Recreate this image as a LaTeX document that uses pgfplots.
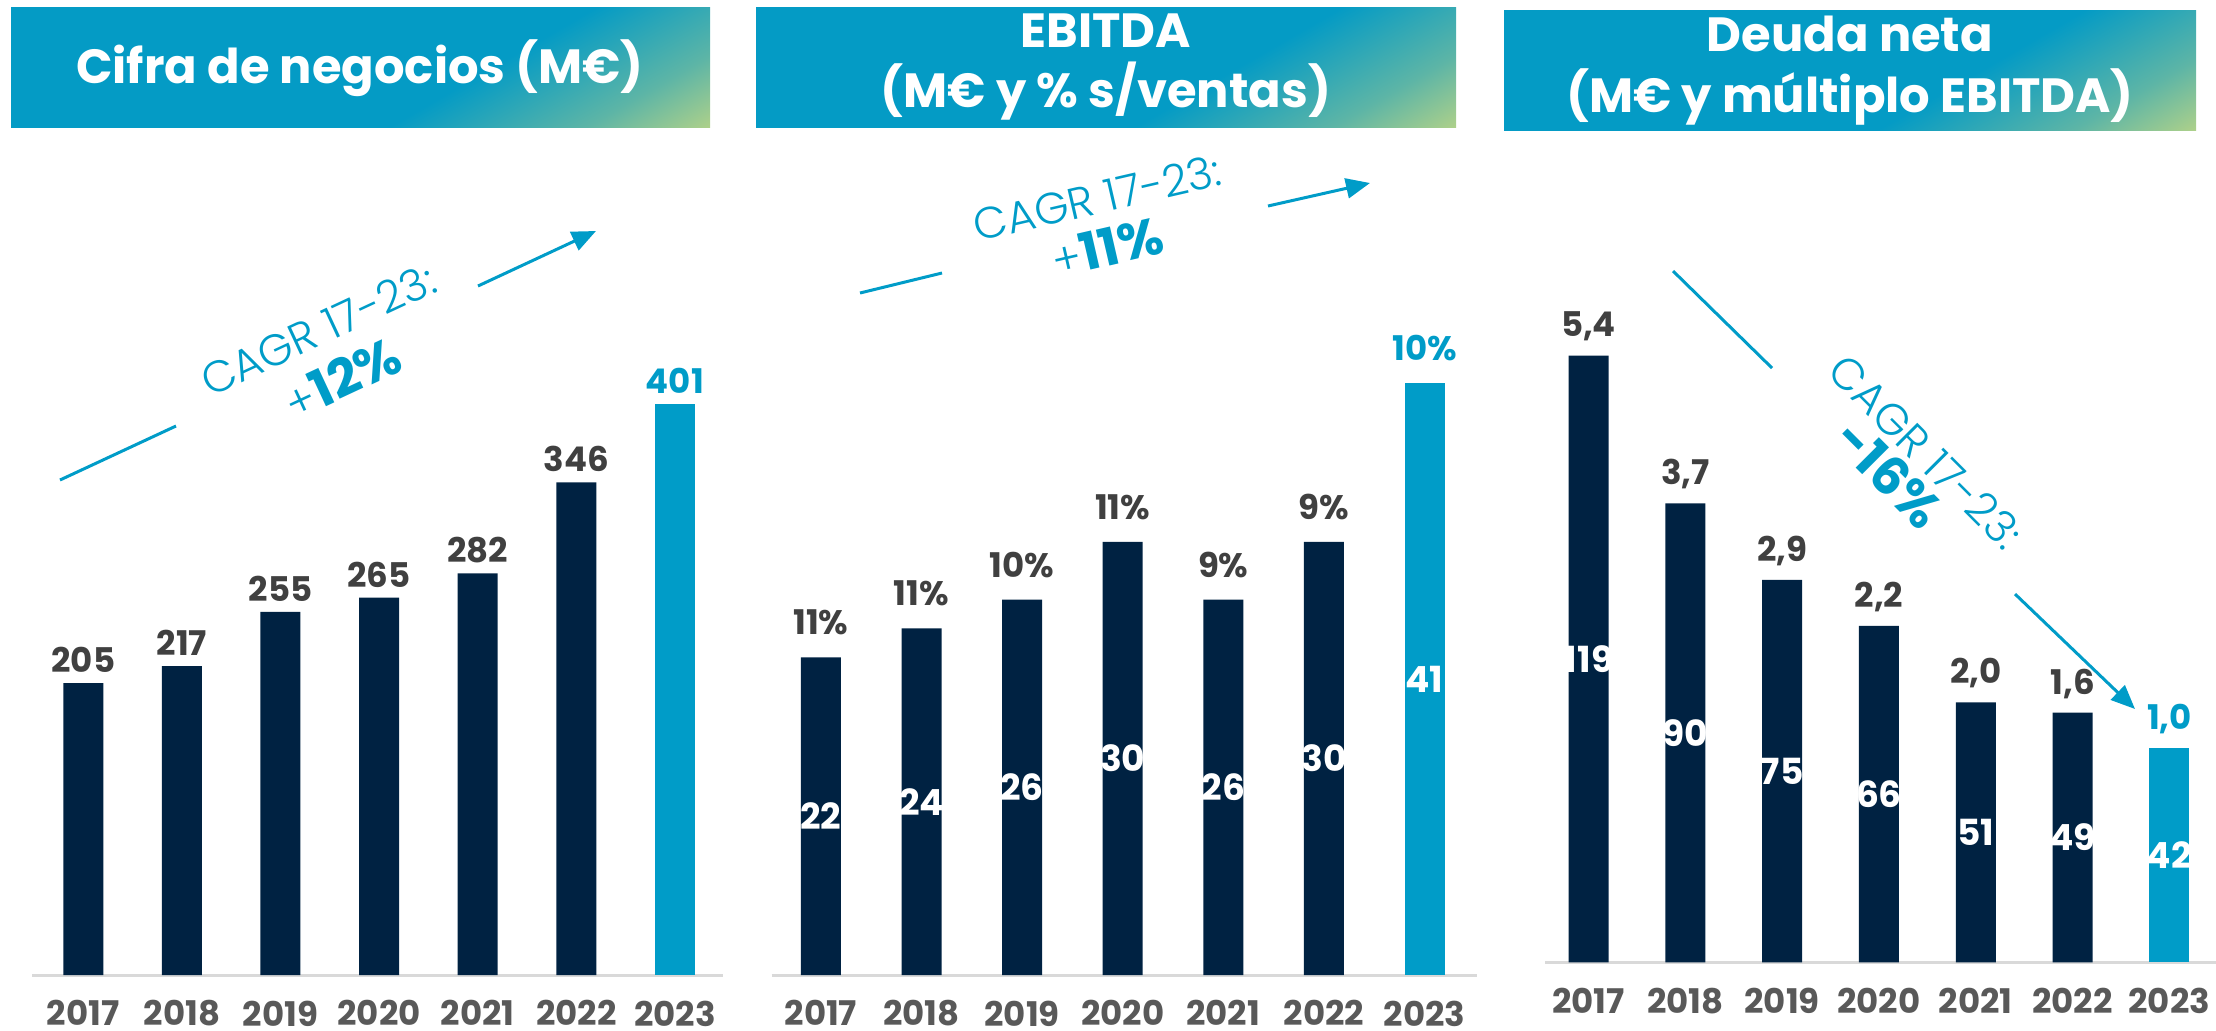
\documentclass[border=0pt]{standalone}
\usepackage{pgfplots}
\pgfplotsset{compat=1.18}
\usepackage{pgfplotstable}
\usepackage{fontspec}
\usetikzlibrary{arrows.meta}
\setmainfont{Poppins}
\IfFontExistsTF{Poppins Light}{\newfontfamily\lightfont{Poppins Light}}{\newfontfamily\lightfont{Poppins}}

\definecolor{navy}{HTML}{002242}
\definecolor{cblue}{HTML}{009CC8}
\definecolor{hblue}{HTML}{049BC5}
\definecolor{hteal}{HTML}{5DB5A6}
\definecolor{hyel}{HTML}{C4D882}
\definecolor{vgray}{HTML}{404040}
\definecolor{ygray}{HTML}{595959}
\definecolor{lgray}{HTML}{D9D9D9}

\pgfdeclarehorizontalshading{hdr}{100bp}{color(0bp)=(hblue); color(60bp)=(hblue); color(75bp)=(hteal); color(87bp)=(hyel); color(100bp)=(hyel)}

\newcommand\lab{\bfseries\fontsize{8.5}{10}\selectfont}
\newcommand\inl{\bfseries\fontsize{9}{10}\selectfont}
\newcommand\ttl{\bfseries\fontsize{12}{15.2}\selectfont}

% data
\pgfplotstableread{
x val
0 205
1 217
2 255
3 265
4 282
5 346
6 401
}\ventas

\pgfplotstableread{
x val pct
0 22 11
1 24 11
2 26 10
3 30 11
4 26 9
5 30 9
6 41 10
}\ebitda

\pgfplotstableread{
x val mult
0 119 5.4
1 90 3.7
2 75 2.9
3 66 2.2
4 51 2.0
5 49 1.6
6 42 1.0
}\deuda

\pgfplotsset{
  panel/.style={
    scale only axis, clip=false, ymin=0,
    /pgf/number format/assume math mode=true,
    axis x line*=bottom, axis y line=none,
    axis line style={-, lgray, line width=0.75pt},
    xtick={0,...,6},
    xticklabels={2017,2018,2019,2020,2021,2022,2023},
    major tick length=0pt, xtick style={draw=none},
    x tick label style={font=\lab, text=ygray, inner sep=0pt, yshift=-6.2pt},
  },
  bars/.style={ybar, bar width=10pt, bar shift=0pt, draw=none},
  toplab/.style={nodes near coords,
    every node near coord/.append style={font=\lab, text=vgray, yshift=#1}},
  inlab/.style={nodes near coords,
    visualization depends on={y \as \rawy},
    every node near coord/.append style={font=\inl, text=white, anchor=center,
      shift={(axis direction cs:0,-\rawy/2)}}},
  first6/.style={skip coords between index={6}{7}},
  last1/.style={skip coords between index={0}{6}},
}

\begin{document}
\begin{tikzpicture}

% Cifra de negocios
\begin{axis}[panel, at={(8pt,-243.75pt)}, anchor=south west,
  width=172.8pt, height=160.2pt, xmin=-0.52, xmax=6.49, ymax=450]
\addplot[bars, fill=navy, toplab=-1pt] table[x=x, y=val, first6] {\ventas};
\addplot[bars, fill=cblue, toplab=-1pt,
  every node near coord/.append style={text=cblue}] table[x=x, y=val, last1] {\ventas};
\end{axis}

% EBITDA
\begin{axis}[panel, at={(192.9pt,-243.75pt)}, anchor=south west,
  width=176.3pt, height=162.45pt, xmin=-0.49, xmax=6.52, ymax=45]
\addplot[bars, fill=navy, inlab] table[x=x, y=val, first6] {\ebitda};
\addplot[bars, fill=cblue, inlab] table[x=x, y=val, last1] {\ebitda};
\addplot[bars, fill=none, point meta=explicit, toplab=2pt,
  nodes near coords={\pgfmathprintnumber{\pgfplotspointmeta}\%}]
  table[x=x, y=val, meta=pct, first6] {\ebitda};
\addplot[bars, fill=none, point meta=explicit, toplab=2pt,
  every node near coord/.append style={text=cblue},
  nodes near coords={\pgfmathprintnumber{\pgfplotspointmeta}\%}]
  table[x=x, y=val, meta=pct, last1] {\ebitda};
\end{axis}

% Deuda neta
\begin{axis}[panel, at={(386.25pt,-240.6pt)}, anchor=south west,
  width=167.7pt, height=165.75pt, xmin=-0.45, xmax=6.48, ymax=130]
\addplot[bars, fill=navy, inlab] table[x=x, y=val, first6] {\deuda};
\addplot[bars, fill=cblue, inlab] table[x=x, y=val, last1] {\deuda};
\addplot[bars, fill=none, point meta=explicit, toplab=0pt,
  nodes near coords={\pgfmathprintnumber[fixed, fixed zerofill, precision=1, use comma]{\pgfplotspointmeta}}]
  table[x=x, y=val, meta=mult, first6] {\deuda};
\addplot[bars, fill=none, point meta=explicit, toplab=0pt,
  every node near coord/.append style={text=cblue},
  nodes near coords={\pgfmathprintnumber[fixed, fixed zerofill, precision=1, use comma]{\pgfplotspointmeta}}]
  table[x=x, y=val, meta=mult, last1] {\deuda};
\end{axis}

% headers and annotations, in pixel units of the reference
\begin{scope}[x=0.25pt, y=-0.25pt]
\shade[shading=hdr, shading angle=-60] (11,7) rectangle (710,127);
\shade[shading=hdr, shading angle=-60] (756,7) rectangle (1456,127);
\shade[shading=hdr, shading angle=-60] (1504,10) rectangle (2196,130);
\node[text=white, font=\ttl] at (360,68) {Cifra de negocios (M€)};
\node[text=white, font=\ttl, align=center] at (1106,67) {EBITDA\\(M€ y \% s/ventas)};
\node[text=white, font=\ttl, align=center] at (1850,71) {Deuda neta\\(M€ y múltiplo EBITDA)};

\tikzset{cl/.style={cblue, line width=0.75pt}, ca/.style={cl, -{Triangle[length=6pt, width=5pt]}}}
% panel 1
\draw[cl] (60,480) -- (176,426);
\draw[ca] (478,286) -- (596,231);
\node[rotate=25, text=cblue, font=\lightfont\fontsize{11}{13}\selectfont] at (318,330) {CAGR 17-23:};
\node[rotate=25, text=cblue] at (342,378) {{\lightfont\fontsize{11}{13}\selectfont +}{\bfseries\fontsize{13}{15}\selectfont 12\%}};
% panel 2
\draw[cl] (860,293) -- (942,273);
\draw[ca] (1268,206) -- (1370,183);
\node[rotate=13, text=cblue, font=\lightfont\fontsize{11}{13}\selectfont] at (1097,198) {CAGR 17-23:};
\node[rotate=13, text=cblue] at (1107,247) {{\lightfont\fontsize{11}{13}\selectfont +}{\bfseries\fontsize{13}{15}\selectfont 11\%}};
% panel 3
\draw[cl] (1673,271) -- (1772,368);
\draw[ca] (2015,594) -- (2135,709);
\node[rotate=-45, text=cblue, font=\lightfont\fontsize{11}{13}\selectfont] at (1926,452) {CAGR 17-23:};
\node[rotate=-45, text=cblue, font=\bfseries\fontsize{13}{15}\selectfont] at (1889,474) {-16\%};
\end{scope}

\pgfresetboundingbox
\path (0pt,0pt) rectangle (554pt,-257.5pt);
\end{tikzpicture}
\end{document}
